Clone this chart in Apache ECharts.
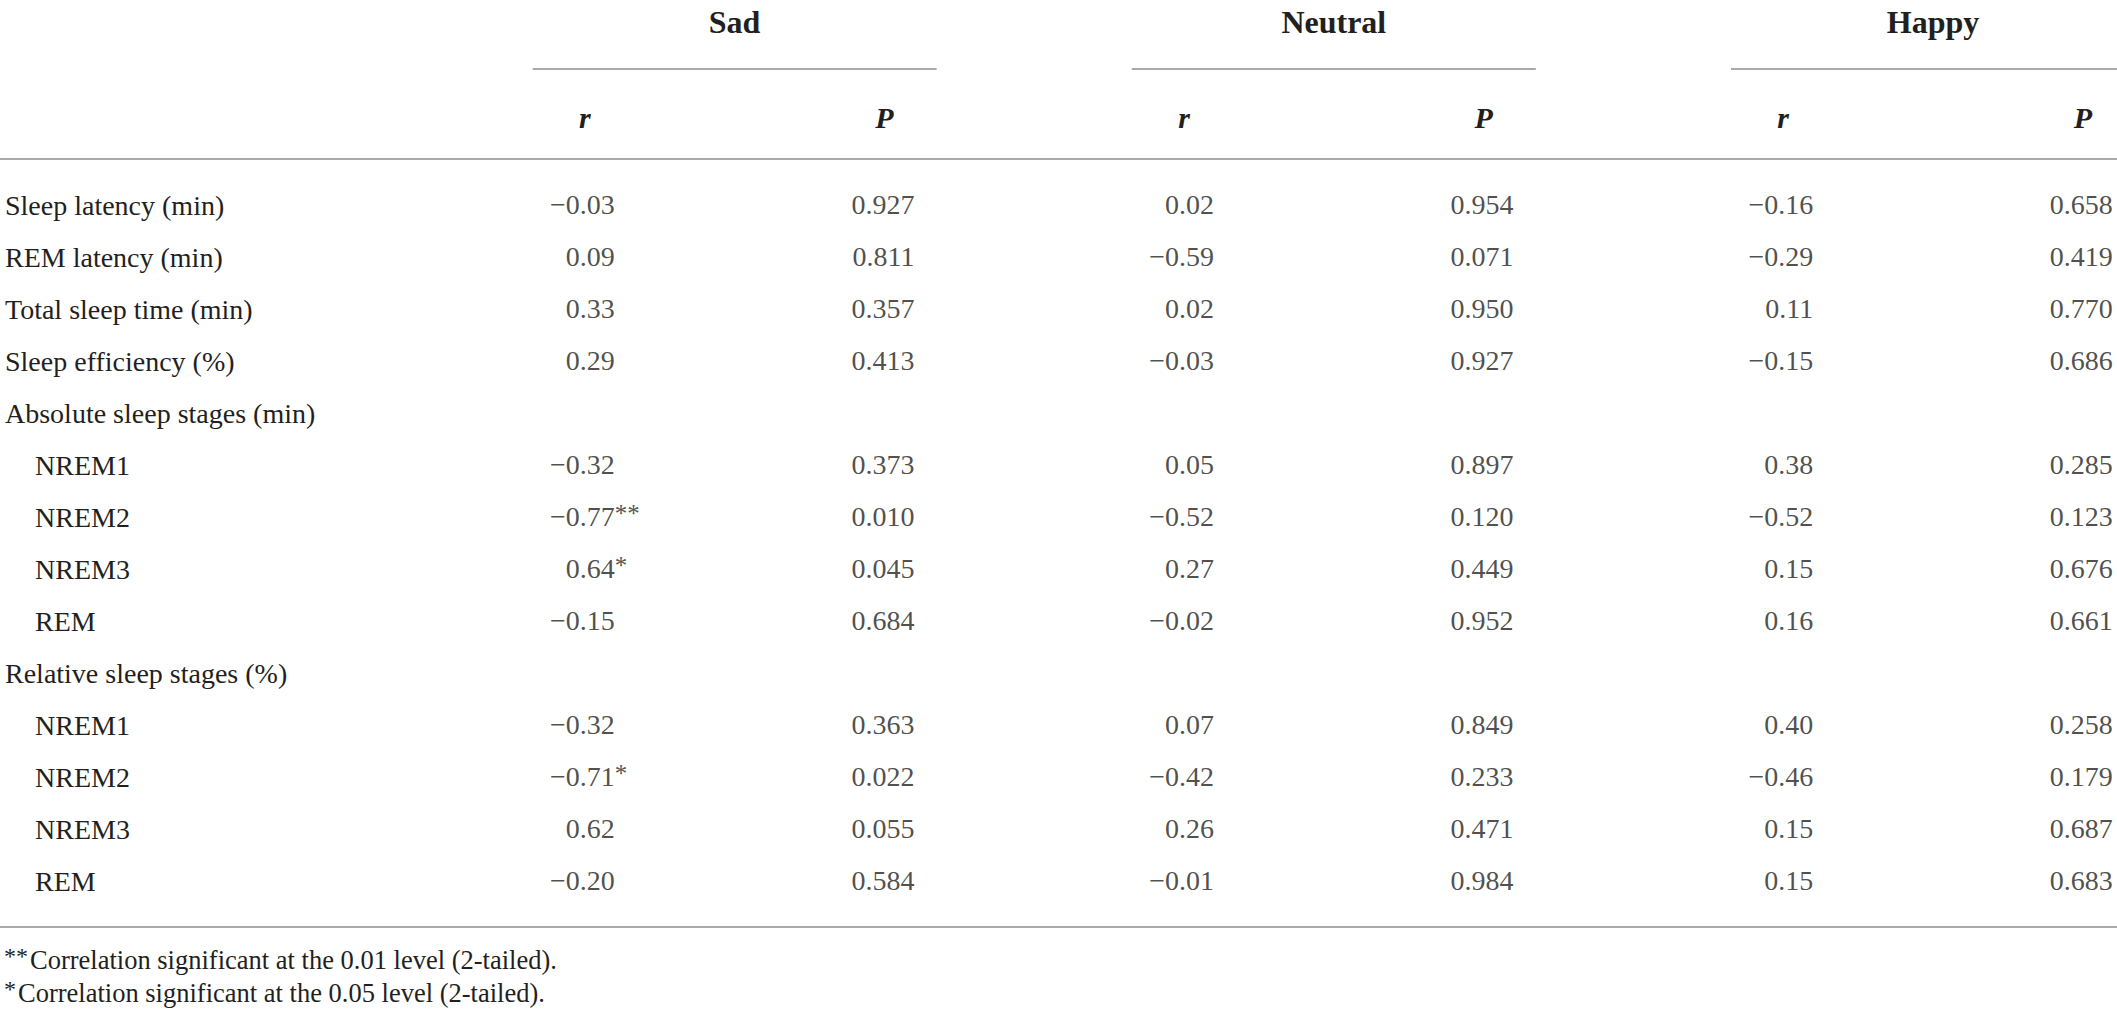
<!DOCTYPE html>
<html>
<head>
<meta charset="utf-8">
<title>Correlations by mood condition</title>
<script src="https://cdn.jsdelivr.net/npm/echarts@6/dist/echarts.min.js"></script>
<style>
  html, body { margin: 0; padding: 0; background: #fff; }
  #chart { width: 2117px; height: 1016px; }
</style>
</head>
<body>
<div id="chart"></div>
<script>
// ==================== data ====================
const rowLabels = [
  'Sleep latency (min)', 'REM latency (min)', 'Total sleep time (min)', 'Sleep efficiency (%)',
  'Absolute sleep stages (min)', 'NREM1', 'NREM2', 'NREM3', 'REM',
  'Relative sleep stages (%)', 'NREM1', 'NREM2', 'NREM3', 'REM'
]
// 0 = top level row, 1 = indented sub row
const rowLevel = [0, 0, 0, 0, 0, 1, 1, 1, 1, 0, 1, 1, 1, 1]
const groups = ['Sad', 'Neutral', 'Happy']
const colHeads = ['r', 'P', 'r', 'P', 'r', 'P']

const sadR     = [-0.03, 0.09, 0.33, 0.29, null, -0.32, -0.77, 0.64, -0.15, null, -0.32, -0.71, 0.62, -0.20]
const sadP     = [0.927, 0.811, 0.357, 0.413, null, 0.373, 0.010, 0.045, 0.684, null, 0.363, 0.022, 0.055, 0.584]
const neutralR = [0.02, -0.59, 0.02, -0.03, null, 0.05, -0.52, 0.27, -0.02, null, 0.07, -0.42, 0.26, -0.01]
const neutralP = [0.954, 0.071, 0.950, 0.927, null, 0.897, 0.120, 0.449, 0.952, null, 0.849, 0.233, 0.471, 0.984]
const happyR   = [-0.16, -0.29, 0.11, -0.15, null, 0.38, -0.52, 0.15, 0.16, null, 0.40, -0.46, 0.15, 0.15]
const happyP   = [0.658, 0.419, 0.770, 0.686, null, 0.285, 0.123, 0.676, 0.661, null, 0.258, 0.179, 0.687, 0.683]

const footMarks = ['**', '*']
const footNotes = [
  'Correlation significant at the 0.01 level (2-tailed).',
  'Correlation significant at the 0.05 level (2-tailed).'
]

// ==================== layout / style ====================
const FONT = '"Liberation Serif", "DejaVu Serif", serif'
const INK = '#231f20'
const RULE = '#a9a9a9'
const GRID_TOP = 179
const ROW_H = 52
const GRID_LEFT = 435
const COL_W = 299.6
const NUM_SHIFT = 30   // numbers are right aligned, this far right of the column centre

// columns: [values, decimals, paired P values (r columns only)]
const columns = [
  [sadR, 2, sadP], [sadP, 3, null],
  [neutralR, 2, neutralP], [neutralP, 3, null],
  [happyR, 2, happyP], [happyP, 3, null]
]

function fmt(v, d) {
  return v.toFixed(d).replace('-', '\u2212')
}
function sigMark(p) {
  if (p == null) return ''
  if (p <= 0.01) return '**'
  if (p < 0.05) return '*'
  return ''
}

const cells = []
const marks = []
columns.forEach(([vals, dec, pVals], c) => {
  vals.forEach((v, r) => {
    if (v == null) return
    cells.push({ value: [c, r], text: fmt(v, dec) })
    const m = pVals ? sigMark(pVals[r]) : ''
    if (m) marks.push({ value: [c, r], text: m })
  })
})

const chart = echarts.init(document.getElementById('chart'), null, { renderer: 'svg' })

const option = {
  backgroundColor: '#fff',
  animation: false,
  textStyle: { fontFamily: FONT, color: INK },
  grid: {
    left: GRID_LEFT,
    top: GRID_TOP,
    width: COL_W * colHeads.length,
    height: ROW_H * rowLabels.length,
    outerBoundsMode: 'none'
  },
  xAxis: [
    {
      type: 'category',
      position: 'top',
      data: colHeads,
      axisLine: { show: false },
      axisTick: { show: false },
      splitLine: { show: false },
      axisLabel: {
        interval: 0,
        margin: GRID_TOP - 117,
        verticalAlign: 'middle',
        fontFamily: FONT,
        fontSize: 30,
        fontWeight: 'bold',
        fontStyle: 'italic',
        color: INK
      }
    },
    {
      type: 'category',
      position: 'top',
      data: groups,
      axisLine: { show: false },
      axisTick: { show: false },
      splitLine: { show: false },
      axisLabel: {
        interval: 0,
        margin: GRID_TOP - 22,
        verticalAlign: 'middle',
        fontFamily: FONT,
        fontSize: 32,
        fontWeight: 'bold',
        color: INK
      }
    }
  ],
  yAxis: {
    type: 'category',
    inverse: true,
    data: rowLabels,
    axisLine: { show: false },
    axisTick: { show: false },
    splitLine: { show: false },
    axisLabel: {
      interval: 0,
      margin: GRID_LEFT - 5,
      align: 'left',
      formatter: (val, idx) => rowLevel[idx] ? '{sub|' + val + '}' : '{top|' + val + '}',
      rich: {
        top: { fontFamily: FONT, fontSize: 28, color: INK },
        sub: { fontFamily: FONT, fontSize: 28, color: INK, padding: [0, 0, 0, 30] }
      }
    }
  },
  series: [
    {
      name: 'cells',
      type: 'scatter',
      xAxisIndex: 0,
      symbolSize: 0,
      silent: true,
      data: cells,
      label: {
        show: true,
        position: 'inside',
        align: 'right',
        verticalAlign: 'middle',
        offset: [NUM_SHIFT, -1],
        formatter: p => p.data.text,
        fontFamily: FONT,
        fontSize: 28,
        color: INK
      }
    },
    {
      name: 'marks',
      type: 'scatter',
      xAxisIndex: 0,
      symbolSize: 0,
      silent: true,
      data: marks,
      label: {
        show: true,
        position: 'inside',
        align: 'left',
        verticalAlign: 'middle',
        offset: [NUM_SHIFT, -4],
        formatter: p => p.data.text,
        fontFamily: FONT,
        fontSize: 25,
        color: INK
      }
    }
  ]
}

chart.setOption(option)

// ==================== rules & footnotes ====================
const W = 2117
const headRuleY = GRID_TOP - 20
const footRuleY = GRID_TOP + ROW_H * rowLabels.length + 20
const UNDER_HALF = 202

const graphics = []
function hline(x1, x2, y) {
  graphics.push({
    type: 'line',
    silent: true,
    shape: { x1, y1: y, x2, y2: y },
    style: { stroke: RULE, lineWidth: 2 }
  })
}
groups.forEach(g => {
  const cx = chart.convertToPixel({ xAxisIndex: 1 }, g)
  hline(Math.max(0, cx - UNDER_HALF), Math.min(W, cx + UNDER_HALF), 69)
})
hline(0, W, headRuleY)
hline(0, W, footRuleY)

footNotes.forEach((t, i) => {
  const y = footRuleY + 33 + i * 33
  graphics.push({
    type: 'text', silent: true, x: 4, y: y - 4,
    style: { text: footMarks[i], font: '24px ' + FONT, fill: INK, verticalAlign: 'middle' }
  })
  graphics.push({
    type: 'text', silent: true, x: 6 + footMarks[i].length * 12, y,
    style: { text: t, font: '26.5px ' + FONT, fill: INK, verticalAlign: 'middle' }
  })
})

chart.setOption({ graphic: graphics })
window.addEventListener('resize', () => chart.resize())
</script>
</body>
</html>
